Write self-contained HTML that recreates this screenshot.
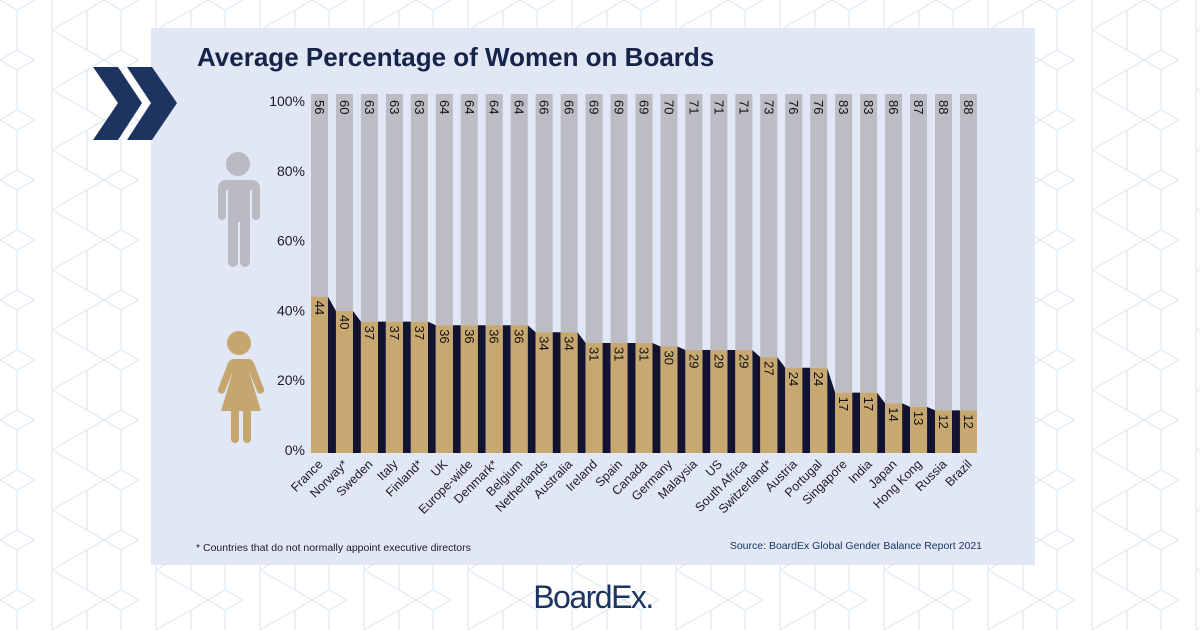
<!DOCTYPE html>
<html><head><meta charset="utf-8"><style>
body{margin:0;width:1200px;height:630px;overflow:hidden;background:#fff;font-family:"Liberation Sans",sans-serif}
svg{display:block}
</style></head><body>
<svg width="1200" height="630" viewBox="0 0 1200 630">
<defs>
<pattern id="hex" width="104" height="60" patternUnits="userSpaceOnUse">
<path d="M0 0 L17 10 L17 50 L0 60 M17 10 L52 -10 M17 50 L52 70 M52 -10 L52 70 M52 30 L87 10 L104 0 M87 10 L87 50 L104 60 M52 30 L87 50" fill="none" stroke="#d6e4f0" stroke-width="1"/>
</pattern>
</defs>
<rect width="1200" height="630" fill="url(#hex)"/>
<rect x="151" y="28" width="884" height="537" fill="#e1e7f4"/>
<g fill="#1d3461">
<polygon points="93,67 118,67 142,103 118,140 93,140 118,103"/>
<polygon points="127,67 152,67 177,103 152,140 127,140 151,103"/>
</g>
<text x="197" y="66" font-size="26" font-weight="bold" fill="#16244a">Average Percentage of Women on Boards</text>
<g fill="#b9bac2">
<circle cx="238" cy="164" r="12"/>
<path d="M224 180 h28 a8 8 0 0 1 8 8 v28 a4 4 0 0 1 -8 0 v-26 h-2 v72 a5 5 0 0 1 -10 0 v-40 h-2 v40 a5 5 0 0 1 -10 0 v-72 h-2 v26 a4 4 0 0 1 -8 0 v-28 a8 8 0 0 1 8 -8z"/>
</g>
<g fill="#c4a66e">
<circle cx="239" cy="343" r="12"/>
<path d="M230 359 h18 a6 6 0 0 1 6 4 l10 26 a3.5 3.5 0 0 1 -7 2 l-8 -20 l12 40 h-10 v28 a4 4 0 0 1 -8 0 v-28 h-4 v28 a4 4 0 0 1 -8 0 v-28 h-10 l12 -40 l-8 20 a3.5 3.5 0 0 1 -7 -2 l10 -26 a6 6 0 0 1 6 -4z"/>
</g>
<g id="chart"></g>
<text x="196" y="551" font-size="10.5" fill="#1a1a2e">* Countries that do not normally appoint executive directors</text>
<text x="982" y="549" font-size="10.5" fill="#1d3461" text-anchor="end">Source: BoardEx Global Gender Balance Report 2021</text>
<text x="593" y="608" font-size="32" fill="#1d3461" text-anchor="middle" letter-spacing="-1.5">BoardEx.</text>
</svg>
<script>
const countries=["France","Norway*","Sweden","Italy","Finland*","UK","Europe-wide","Denmark*","Belgium","Netherlands","Australia","Ireland","Spain","Canada","Germany","Malaysia","US","South Africa","Switzerland*","Austria","Portugal","Singapore","India","Japan","Hong Kong","Russia","Brazil"];
const women=[44,40,37,37,37,36,36,36,36,34,34,31,31,31,30,29,29,29,27,24,24,17,17,14,13,12,12];
const men=[56,60,63,63,63,64,64,64,64,66,66,69,69,69,70,71,71,71,73,76,76,83,83,86,87,88,88];
const yTicks=[0,20,40,60,80,100];
const NS="http://www.w3.org/2000/svg";
const g=document.getElementById('chart');
const y=v=>453-v*3.55;
const x0=311,step=24.96,bw=17;
const xl=i=>x0+i*step;
function mk(t,a){const e=document.createElementNS(NS,t);for(const k in a)e.setAttribute(k,a[k]);g.appendChild(e);return e;}
yTicks.forEach(t=>{
  const e=mk('text',{x:305,y:450-t*3.49+5,'font-size':14,'text-anchor':'end',fill:'#1a1a2e'});
  
  
  e.textContent=t+'%';
});
countries.forEach((c,i)=>{
  const L=xl(i),R=L+bw;
  const gr=mk('rect',{x:L,y:94,width:bw,height:y(women[i])-94,fill:'#bbbcc4'});
  
  
  if(i<countries.length-1){
    const n=xl(i+1);
    const sh=mk('polygon',{points:`${R},${y(women[i])} ${n},${y(women[i+1])} ${n},453 ${R},453`,fill:'#111331'});
    
    
  }
  const tb=mk('rect',{x:L,y:y(women[i]),width:bw,height:453-y(women[i]),fill:'#c8a871'});
  
  
  const cx=L+bw/2;
  const wl=mk('text',{x:0,y:0,'font-size':13,fill:'#111','transform':`translate(${cx-4.5},${y(women[i])+4}) rotate(90)`});
  
  
  wl.textContent=women[i];
  const ml=mk('text',{x:0,y:0,'font-size':13,fill:'#111','transform':`translate(${cx-4.5},${100}) rotate(90)`});
  
  
  ml.textContent=men[i];
  const cl=mk('text',{x:0,y:0,'font-size':12.5,fill:'#1a1a2e','text-anchor':'end','transform':`translate(${cx+4},${465}) rotate(-45)`});
  
  
  cl.textContent=c;
});
</script>
</body></html>
